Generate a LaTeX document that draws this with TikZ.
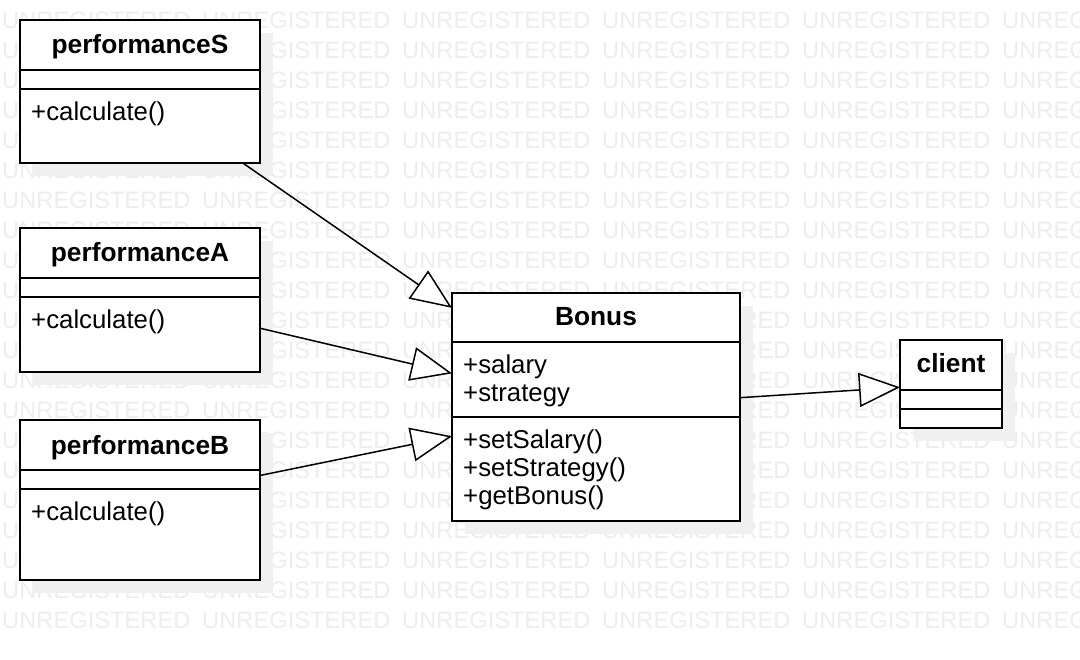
\documentclass[tikz,border=0pt]{standalone}
\usepackage{fontspec}
\setmainfont{Liberation Sans}
\usepackage{tikz}
\usetikzlibrary{arrows.meta}
\usetikzlibrary{shadows}
\usetikzlibrary{positioning}

\tikzset{
  umlclass/.style={draw, line width=1.6pt, fill=white, inner sep=0pt, outer sep=0pt,
    drop shadow={shadow xshift=13pt, shadow yshift=-13pt, fill=black!6, opacity=1}},
  compart/.style={line width=1.6pt},
  classname/.style={anchor=base, font=\fontsize{26.3}{28}\selectfont\bfseries},
  members/.style={anchor=north west, align=left, inner sep=0pt, font=\fontsize{25.8}{28}\selectfont},
  wmark/.style={anchor=west, inner sep=0pt, text=black!7, font=\fontsize{23.7}{28}\selectfont},
  generalize/.style={-{Triangle[fill=white, length=41pt, width=34pt]}, line width=1.5pt},
}

\begin{document}
\begin{tikzpicture}[x=1pt, y=-1pt]
\useasboundingbox (0,0) rectangle (1080,660);
\fill[white] (0,0) rectangle (1080,660);

%Watermark
\foreach \r in {0,...,21} {
  \foreach \c in {0,...,5} {
    \node[wmark] (wm-\r-\c) at (2+200*\c, -10+30*\r) {UNREGISTERED};
  }
}

%Classes
\node[umlclass, minimum width=240pt, minimum height=143pt] (perfS) at (140, 91.5) {};
\node[umlclass, minimum width=240pt, minimum height=144pt] (perfA) at (140, 300) {};
\node[umlclass, minimum width=240pt, minimum height=160pt] (perfB) at (140, 500) {};
\node[umlclass, minimum width=288pt, minimum height=228pt] (bonus) at (596, 407) {};
\node[umlclass, minimum width=102pt, minimum height=88pt] (client) at (951, 384) {};

\foreach \n in {perfS, perfA, perfB, client} {
  \draw[compart] ([yshift=-50pt]\n.north west) -- ([yshift=-50pt]\n.north east);
  \draw[compart] ([yshift=-69pt]\n.north west) -- ([yshift=-69pt]\n.north east);
}
\draw[compart] ([yshift=-49pt]bonus.north west) -- ([yshift=-49pt]bonus.north east);
\draw[compart] ([yshift=-124pt]bonus.north west) -- ([yshift=-124pt]bonus.north east);

\node[classname] (perfS-name) at ([yshift=-34pt]perfS.north) {performanceS};
\node[classname] (perfA-name) at ([yshift=-34pt]perfA.north) {performanceA};
\node[classname] (perfB-name) at ([yshift=-34pt]perfB.north) {performanceB};
\node[classname] (bonus-name) at ([yshift=-33pt]bonus.north) {Bonus};
\node[classname] (client-name) at ([yshift=-33pt]client.north) {client};

\node[members] (perfS-ops) at ([xshift=11pt, yshift=-80.4pt]perfS.north west) {\strut+calculate()};
\node[members] (perfA-ops) at ([xshift=11pt, yshift=-80.4pt]perfA.north west) {\strut+calculate()};
\node[members] (perfB-ops) at ([xshift=11pt, yshift=-80.4pt]perfB.north west) {\strut+calculate()};
\node[members] (bonus-attr) at ([xshift=11pt, yshift=-60.4pt]bonus.north west) {\strut+salary\\+strategy};
\node[members] (bonus-ops) at ([xshift=11pt, yshift=-135.4pt]bonus.north west) {\strut+setSalary()\\+setStrategy()\\+getBonus()};

%Generalizations
\draw[generalize] (perfS) -- (bonus);
\draw[generalize] (perfA) -- (bonus);
\draw[generalize] (perfB) -- (bonus);
\draw[generalize] (bonus) -- (client);
\end{tikzpicture}
\end{document}
